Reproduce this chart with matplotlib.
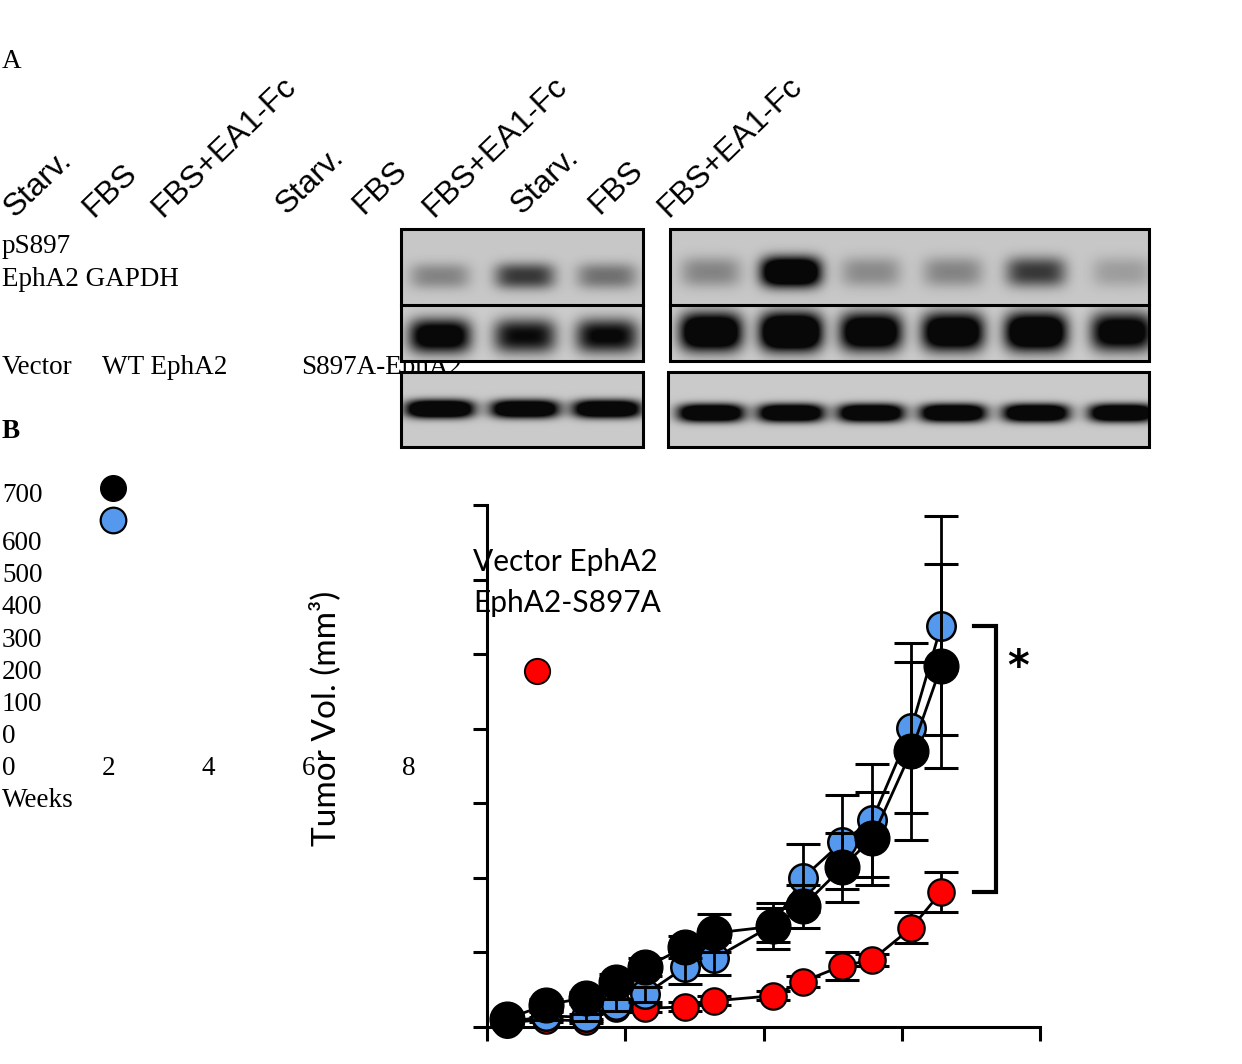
import numpy as np
import matplotlib
matplotlib.use('Agg')
import matplotlib.pyplot as plt
from matplotlib.patches import Rectangle

# tumour growth (weeks, mm3)
weeks = [0.29, 0.86, 1.43, 1.86, 2.29, 2.86, 3.29, 4.14, 4.57, 5.14, 5.57, 6.14, 6.57]
vector_vol = [11, 30, 39, 61, 80, 107, 126, 135, 162, 214, 253, 370, 484]
vector_err = [5, 8, 8, 10, 12, 15, 26, 31, 29, 46, 62, 119, 137]
epha2_vol = [6, 15, 13, 30, 44, 80, 92, 137, 200, 248, 277, 401, 538]
epha2_err = [4, 5, 5, 8, 10, 22, 22, 23, 46, 63, 76, 114, 147]
s897a_vol = [6, 10, 8, 25, 25, 27, 35, 42, 61, 82, 90, 133, 181]
s897a_err = [3, 3, 3, 5, 5, 6, 6, 6, 8, 19, 8, 21, 27]

y_ticks = [0, 100, 200, 300, 400, 500, 600, 700]
x_ticks = [0, 2, 4, 6, 8]

# blot band darkness per lane (values >1 saturate)
ps897_left = [0.35, 0.75, 0.45]
ps897_right = [0.35, 1.70, 0.32, 0.35, 0.75, 0.22]
epha2_left = [1.30, 1.00, 1.05]
epha2_right = [1.60, 1.80, 1.50, 1.50, 1.60, 1.30]
gapdh_left = [1.8, 1.7, 1.7]
gapdh_right = [1.7, 1.7, 1.7, 1.7, 1.7, 1.7]
lanes_left = [440, 525, 607]
lanes_right = [711, 791, 871, 953, 1036, 1122]

lane_labels = ['Starv.', 'FBS', 'FBS+EA1-Fc'] * 3
lane_label_x = [15, 93, 162, 287, 363, 433, 522, 599, 668]
lane_label_y = [218, 218, 218, 215, 215, 218, 215, 215, 218]

W, H = 1242, 1064
fig = plt.figure(figsize=(W / 100, H / 100), dpi=100)

# ---- growth curve axes
ax = fig.add_axes([487 / W, (H - 1027) / H, (1040 - 487) / W, (1027 - 505) / H])
ax.set_facecolor('none')
ax.set_xlim(0, 8)
ax.set_ylim(0, 700)
ax.set_xticks(x_ticks)
ax.set_yticks(y_ticks)
ax.set_xticklabels([])
ax.set_yticklabels([])
for s in ['top', 'right']:
    ax.spines[s].set_visible(False)
for s in ['left', 'bottom']:
    ax.spines[s].set_linewidth(2.2)
ax.tick_params(axis='both', length=10, width=2.2, direction='out')

lw = 2.0
eb = dict(fmt='none', ecolor='black', elinewidth=lw, capsize=12.5, capthick=2.2, clip_on=False)
ax.errorbar(weeks, s897a_vol, yerr=s897a_err, zorder=2, **eb)
ax.plot(weeks, s897a_vol, '-o', color='black', lw=lw, ms=19, mfc='#ff0000',
        mec='black', mew=1.6, zorder=2.5, clip_on=False)
ax.plot(weeks, epha2_vol, '-o', color='black', lw=lw, ms=20.5, mfc='#5599ee',
        mec='black', mew=1.8, zorder=3, clip_on=False)
ax.errorbar(weeks, epha2_vol, yerr=epha2_err, zorder=3.5, **eb)
ax.errorbar(weeks, vector_vol, yerr=vector_err, zorder=4, **eb)
ax.plot(weeks, vector_vol, '-o', color='black', lw=lw, ms=25, mfc='black',
        mec='black', zorder=5, clip_on=False)

# significance bracket between last EphA2 and last S897A point
bx, bx0 = 7.36, 7.04
ax.plot([bx0, bx, bx, bx0], [epha2_vol[-1], epha2_vol[-1], s897a_vol[-1], s897a_vol[-1]],
        color='black', lw=3, clip_on=False, solid_joinstyle='miter')
ax.text(7.68, 482, '*', fontsize=30, fontweight='bold', ha='center', va='center',
        family='DejaVu Sans')

# ---- overlay in pixel coordinates
ov = fig.add_axes([0, 0, 1, 1])
ov.set_xlim(0, W)
ov.set_ylim(H, 0)
ov.axis('off')
ov.set_facecolor('none')

serif = dict(family='Liberation Serif', fontsize=19.5, va='baseline', ha='left', zorder=1)
ov.text(2, 68, 'A', **serif)
ov.text(2, 253, 'pS897', **serif)
ov.text(2, 286, 'EphA2 GAPDH', **serif)
ov.text(2, 374, 'Vector', **serif)
ov.text(102, 374, 'WT EphA2', **serif)
ov.text(301, 374, 'S897A-EphA2', **serif)
ov.text(2, 438, 'B', fontweight='bold', **serif)
tick_base = [502, 550, 582, 614, 647, 679, 711, 743]
for v, yb in zip(y_ticks[::-1], tick_base):
    ov.text(2, yb, str(v), **serif)
for i, v in enumerate(x_ticks):
    ov.text(2 + 100 * i, 775, str(v), **serif)
ov.text(2, 807, 'Weeks', **serif)

for lab, lx, ly in zip(lane_labels, lane_label_x, lane_label_y):
    ov.text(lx, ly, lab, family='Liberation Sans', fontsize=23, rotation=44,
            rotation_mode='anchor', ha='left', va='baseline')

sans = dict(family='Lato', fontsize=21.5, va='center', ha='left')
ov.text(473, 562, 'Vector EphA2', **sans)
ov.text(473, 603, 'EphA2-S897A', **sans)
ov.text(325, 718, 'Tumor Vol. (mm³)', family='Lato', fontsize=24, rotation=90,
        ha='center', va='center')

# legend symbols
ov.scatter([113], [488], s=340, c='black', edgecolors='black', zorder=3)
ov.scatter([113], [520], s=340, c='#5599ee', edgecolors='black', linewidths=1.6, zorder=3)
ov.scatter([537], [671], s=330, c='#ff0000', edgecolors='black', linewidths=1.4, zorder=3)


def strip(x0, x1, y0, y1, lanes, dark, yc, hw, hh, bg):
    xs = np.arange(x0, x1) + 0.5
    ys = np.arange(y0, y1) + 0.5
    X, Y = np.meshgrid(xs, ys)
    d = np.zeros_like(X)
    for lc, a in zip(lanes, dark):
        d += a * np.exp(-np.abs((X - lc) / hw) ** 4 - np.abs((Y - yc) / hh) ** 2.5)
    g = bg * (1 - np.clip(d, 0, 1) * 0.96)
    ov.imshow(g, cmap='gray', vmin=0, vmax=1, extent=(x0, x1, y1, y0),
              interpolation='bilinear', zorder=2, aspect='auto')


# left blot panel
strip(401, 643, 229, 305, lanes_left, ps897_left, 276, 30, 13, 0.78)
strip(401, 643, 305, 361, lanes_left, epha2_left, 336, 31, 17, 0.80)
strip(401, 643, 372, 447, lanes_left, gapdh_left, 409, 34, 9, 0.79)
# right blot panel
strip(670, 1149, 229, 305, lanes_right, ps897_right, 272, 30, 15, 0.78)
strip(670, 1149, 305, 361, lanes_right, epha2_right, 332, 31, 19, 0.80)
strip(668, 1149, 372, 447, lanes_right, gapdh_right, 413, 33, 9, 0.79)

for (x0, x1, y0, y1) in [(401, 643, 229, 361), (670, 1149, 229, 361),
                         (401, 643, 372, 447), (668, 1149, 372, 447)]:
    ov.add_patch(Rectangle((x0, y0), x1 - x0, y1 - y0, fill=False, ec='black', lw=2.2, zorder=3))
ov.plot([401, 643], [305, 305], color='black', lw=2.2, zorder=3)
ov.plot([670, 1149], [305, 305], color='black', lw=2.2, zorder=3)

fig.savefig('out.png', dpi=100)
